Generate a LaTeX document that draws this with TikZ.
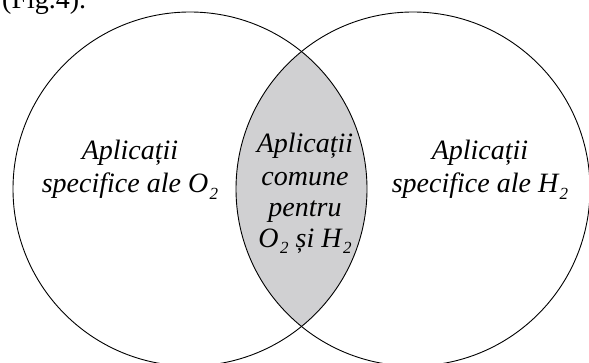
\documentclass[tikz,border=0pt]{standalone}
\usepackage{fontspec}
\setmainfont{Liberation Serif}
\definecolor{lensgray}{RGB}{208,208,210}
% lowered index 2 of a chemical formula
\newcommand\lowtwo{\kern1.5pt\raisebox{-7pt}{\fontsize{17}{17}\selectfont 2}}
\tikzset{
  setcircle/.style={circle, draw=black, line width=0.9pt, minimum size=354pt, inner sep=0pt},
  label/.style={anchor=base, inner sep=0pt, font=\fontsize{28}{33}\selectfont\itshape},
  caption/.style={anchor=base west, inner sep=0pt, font=\fontsize{28}{33}\selectfont}
}
\begin{document}
\begin{tikzpicture}[x=1pt,y=1pt]
  \clip (0,0) rectangle (589,362);
  % shaded intersection of the two sets
  \begin{scope}
    \clip (190,173) circle (177);
    \fill[lensgray] (413,173) circle (177);
  \end{scope}
  % the two sets
  \node[setcircle] (oxy) at (190,173) {};
  \node[setcircle] (hyd) at (413,173) {};
  % caption reference above the figure
  \node[caption] (fig) at (2,353) {(Fig.4).};
  % left set
  \node[label] (o1) at (130,202) {Aplicații};
  \node[label] (o2) at (130,169) {specifice ale O\lowtwo};
  % right set
  \node[label] (h1) at (480,202) {Aplicații};
  \node[label] (h2) at (480,169) {specifice ale H\lowtwo};
  % common part
  \node[label] (c1) at (305,209) {Aplicații};
  \node[label] (c2) at (305,177) {comune};
  \node[label] (c3) at (305,146) {pentru};
  \node[label] (c4) at (305,115) {O\lowtwo{} și H\lowtwo};
\end{tikzpicture}
\end{document}
